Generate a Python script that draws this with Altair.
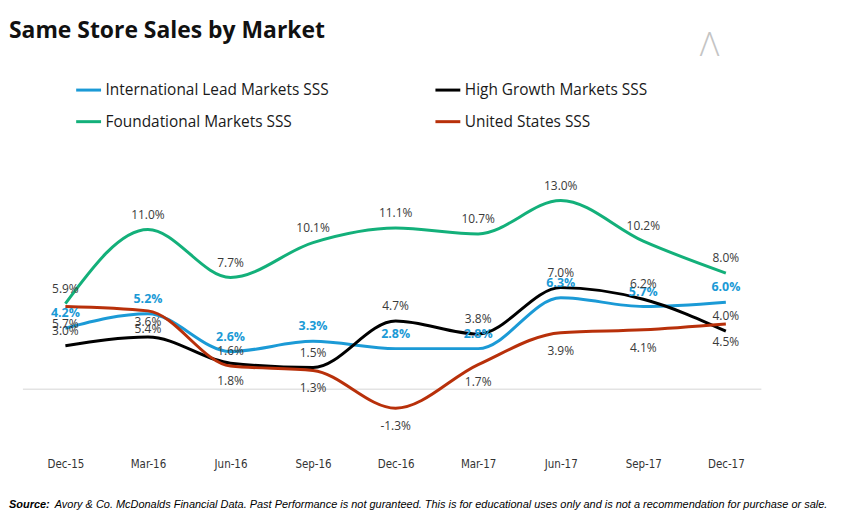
import altair as alt
import pandas as pd

# ---------------- data ----------------
title_text = "Same Store Sales by Market"
source_label = "Source:"
source_text = ("Avory & Co. McDonalds Financial Data. Past Performance is not guranteed. "
               "This is for educational uses only and is not a recommendation for purchase or sale.")

quarters = ["Dec-15", "Mar-16", "Jun-16", "Sep-16", "Dec-16", "Mar-17", "Jun-17", "Sep-17", "Dec-17"]

series_names = [
    "International Lead Markets SSS",
    "High Growth Markets SSS",
    "Foundational Markets SSS",
    "United States SSS",
]
international = [4.2, 5.2, 2.6, 3.3, 2.8, 2.8, 6.3, 5.7, 6.0]
high_growth = [3.0, 3.6, 1.8, 1.5, 4.7, 3.8, 7.0, 6.2, 4.0]
foundational = [5.9, 11.0, 7.7, 10.1, 11.1, 10.7, 13.0, 10.2, 8.0]
united_states = [5.7, 5.4, 1.6, 1.3, -1.3, 1.7, 3.9, 4.1, 4.5]

# ---------------- style ----------------
series_colors = ["#1B9AD6", "#000000", "#13B07A", "#B8300A"]
# labels drawn under the line (all others above)
labels_below = {
    "High Growth Markets SSS": ["Jun-16"],
    "United States SSS": ["Dec-15", "Mar-16", "Sep-16", "Dec-16", "Mar-17", "Jun-17", "Sep-17", "Dec-17"],
}
FONT = "Open Sans"
AXISFONT = "DejaVu Sans Condensed"
NOTEFONT = "Liberation Sans"

values = [international, high_growth, foundational, united_states]
rows = []
for name, vals in zip(series_names, values):
    for q, v in zip(quarters, vals):
        rows.append({
            "series": name,
            "quarter": q,
            "value": v,
            "label": f"{v:.1f}%",
            "side": "below" if q in labels_below.get(name, []) else "above",
            "bold": name == series_names[0],
        })
df = pd.DataFrame(rows)

y_scale = alt.Scale(domain=[-3.5, 15], nice=False, zero=False)
x_enc = alt.X("quarter:N", sort=quarters,
              scale=alt.Scale(type="point", domain=quarters, padding=0.43),
              axis=alt.Axis(title=None, labelAngle=0, domain=False, ticks=False, grid=False,
                            labelFont=AXISFONT, labelFontSize=11.5, labelColor="#333333",
                            labelPadding=19))
y_enc = alt.Y("value:Q", scale=y_scale, axis=None)

base = alt.Chart(df)

zero_rule = alt.Chart(pd.DataFrame({"z": [0]})).mark_rule(color="#e3e3e3", strokeWidth=1.5).encode(
    x=alt.value(-7), x2=alt.value(735),
    y=alt.Y("z:Q", scale=y_scale, axis=None),
)

lines = base.mark_line(interpolate="monotone", strokeWidth=3).encode(
    x=x_enc,
    y=y_enc,
    color=alt.Color("series:N", sort=series_names,
                    scale=alt.Scale(domain=series_names, range=series_colors),
                    legend=alt.Legend(title=None, orient="none", legendX=45, legendY=-96,
                                      direction="horizontal",
                                      columns=2, columnPadding=100, rowPadding=9,
                                      symbolType="stroke", symbolSize=625, symbolStrokeWidth=3,
                                      labelFont=FONT, labelFontSize=15.5, labelColor="#1a1a1a",
                                      labelOffset=3, labelLimit=400)),
)

lbl_blue = base.transform_filter("datum.bold").mark_text(
    font=FONT, fontSize=12.5, fontWeight="bold", color="#1B9AD6", baseline="middle", dy=-15
).encode(x=x_enc, y=y_enc, text="label:N")

lbl_above = base.transform_filter("!datum.bold && datum.side == 'above'").mark_text(
    font=FONT, fontSize=12, color="#3a3a3a", baseline="middle", dy=-15
).encode(x=x_enc, y=y_enc, text="label:N")

lbl_below = base.transform_filter("!datum.bold && datum.side == 'below'").mark_text(
    font=FONT, fontSize=12, color="#3a3a3a", baseline="middle", dy=18
).encode(x=x_enc, y=y_enc, text="label:N")

title = alt.Chart(pd.DataFrame({"t": [title_text]})).mark_text(
    font=FONT, fontSize=23, fontWeight="bold", color="#111111", align="left", baseline="alphabetic"
).encode(x=alt.value(-21), y=alt.value(-134), text="t:N")

logo = alt.Chart(pd.DataFrame({"t": ["Λ"]})).mark_text(
    font=FONT, fontSize=34, fontWeight=300, color="#c4c4c4", align="center", baseline="middle"
).encode(x=alt.value(683), y=alt.value(-126), text="t:N")

src1 = alt.Chart(pd.DataFrame({"t": [source_label]})).mark_text(
    font=NOTEFONT, fontSize=11, fontWeight="bold", fontStyle="italic", color="#000000",
    align="left", baseline="alphabetic"
).encode(x=alt.value(-21), y=alt.value(338), text="t:N")

src2 = alt.Chart(pd.DataFrame({"t": [source_text]})).mark_text(
    font=NOTEFONT, fontSize=11, fontStyle="italic", color="#000000",
    align="left", baseline="alphabetic"
).encode(x=alt.value(25), y=alt.value(338), text="t:N")

chart = alt.layer(zero_rule, lines, lbl_blue, lbl_above, lbl_below, title, logo, src1, src2).properties(
    width=735, height=270,
    autosize=alt.AutoSizeParams(type="none"),
    padding={"left": 22, "top": 163, "right": 74, "bottom": 72},
    background="white",
).configure_view(stroke=None)

chart.save("out.html", embed_options={"renderer": "svg", "actions": False})
